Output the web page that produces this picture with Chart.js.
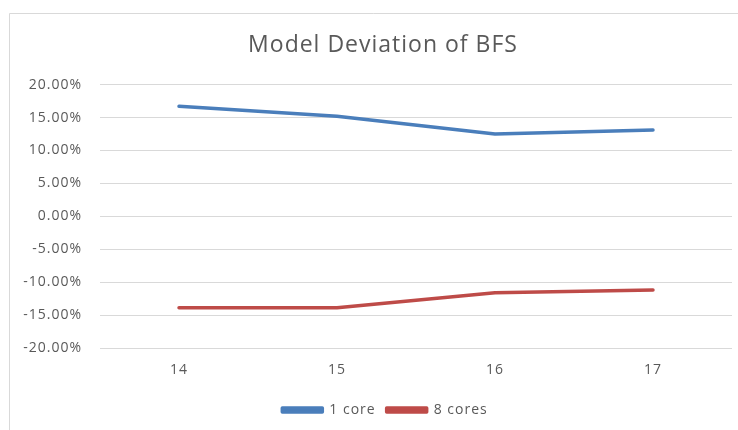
<!DOCTYPE html>
<html>
<head>
<meta charset="utf-8">
<script src="https://cdn.jsdelivr.net/npm/chart.js@4.4.1/dist/chart.umd.min.js"></script>
<style>
html,body{margin:0;padding:0;background:#fff;}
canvas{display:block;}
</style>
</head>
<body>
<canvas id="c" width="738" height="430"></canvas>
<script>
const categories = ['14', '15', '16', '17'];
const oneCore = [16.7, 15.2, 12.5, 13.1];
const eightCores = [-13.9, -13.9, -11.6, -11.2];
const seriesNames = ['1 core', '8 cores'];
const chartTitle = 'Model Deviation of BFS';

function spacing(chart) { try { chart.ctx.letterSpacing = '1px'; } catch (e) {} }
const frame = {
  id: 'frame',
  beforeLayout(chart) { spacing(chart); },
  afterLayout(chart) {
    if (chart.titleBlock) chart.titleBlock.left += 24;
    if (chart.legend) chart.legend.left += 28;
  },
  beforeDraw(chart) {
    spacing(chart);
    const ctx = chart.ctx;
    ctx.save();
    ctx.fillStyle = '#fff';
    ctx.fillRect(0, 0, chart.width, chart.height);
    ctx.strokeStyle = '#d9d9d9';
    ctx.lineWidth = 1;
    ctx.beginPath();
    ctx.moveTo(9.5, 430);
    ctx.lineTo(9.5, 13.5);
    ctx.lineTo(738, 13.5);
    ctx.stroke();
    ctx.restore();
  }
};

const font = '"Open Sans", "Liberation Sans", sans-serif';
new Chart(document.getElementById('c'), {
  type: 'line',
  data: {
    labels: categories,
    datasets: [
      {label: seriesNames[0], data: oneCore, borderColor: '#4a7ebb', backgroundColor: '#4a7ebb',
       borderWidth: 3.5, pointRadius: 0, tension: 0, borderCapStyle: 'round', borderJoinStyle: 'round'},
      {label: seriesNames[1], data: eightCores, borderColor: '#be4b48', backgroundColor: '#be4b48',
       borderWidth: 3.5, pointRadius: 0, tension: 0, borderCapStyle: 'round', borderJoinStyle: 'round'}
    ]
  },
  options: {
    responsive: false,
    animation: false,
    layout: {padding: {left: 10, right: 6, top: 14, bottom: 3}},
    plugins: {
      title: {display: true, text: chartTitle, color: '#595959',
        font: {family: font, size: 23, weight: 'normal'}, lineHeight: 1.2, padding: {top: 18, bottom: 25}},
      legend: {position: 'bottom',
        labels: {color: '#595959', font: {family: font, size: 14}, boxWidth: 40, boxHeight: 4, padding: 11}},
      tooltip: {enabled: false}
    },
    scales: {
      x: {
        offset: true,
        grid: {display: false, drawTicks: false},
        border: {display: false},
        ticks: {color: '#595959', font: {family: font, size: 14}, padding: 14},
        afterFit(s) { s.height = 44; }
      },
      y: {
        min: -20, max: 20,
        grid: {color: '#d9d9d9', lineWidth: 1, drawTicks: false},
        border: {display: false},
        ticks: {stepSize: 5, color: '#595959', font: {family: font, size: 14}, padding: 18,
          callback: v => v.toFixed(2) + '%'},
        afterFit(s) { s.width = 90; }
      }
    }
  },
  plugins: [frame]
});
</script>
</body>
</html>
